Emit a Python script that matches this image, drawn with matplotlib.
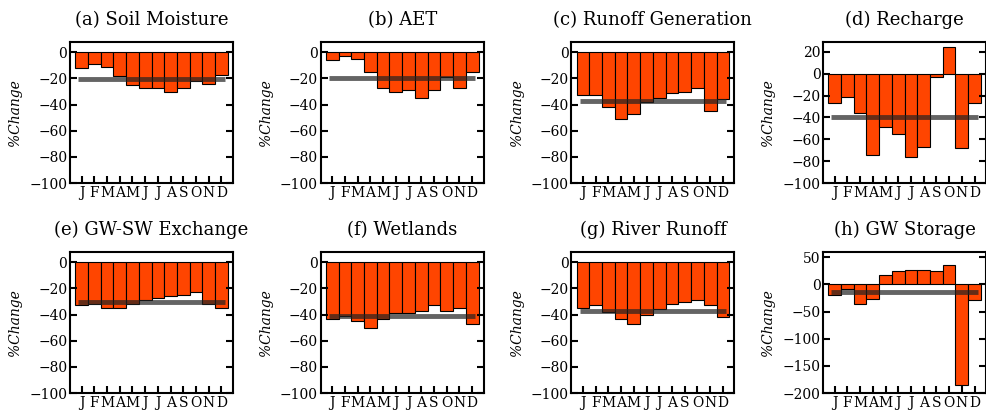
import numpy as np
import matplotlib
matplotlib.use('Agg')
import matplotlib.pyplot as plt

months = ['J', 'F', 'M', 'A', 'M', 'J', 'J', 'A', 'S', 'O', 'N', 'D']

titles = ['(a) Soil Moisture', '(b) AET', '(c) Runoff Generation', '(d) Recharge',
          '(e) GW-SW Exchange', '(f) Wetlands', '(g) River Runoff', '(h) GW Storage']

soil_moisture = [-12, -9, -11, -18, -25, -27, -27, -30, -27, -22, -24, -17]
aet = [-6, -3, -5, -15, -27, -30, -29, -35, -29, -19, -27, -15]
runoff_gen = [-33, -33, -42, -51, -47, -38, -35, -31, -30, -27, -45, -36]
recharge = [-27, -21, -36, -74, -49, -55, -76, -67, -3, 24, -68, -27]
gw_sw = [-33, -32, -35, -35, -32, -29, -27, -26, -25, -23, -32, -35]
wetlands = [-43, -41, -45, -50, -43, -39, -39, -37, -33, -37, -35, -47]
river_runoff = [-35, -33, -38, -43, -47, -40, -36, -32, -30, -29, -33, -42]
gw_storage = [-19, -9, -36, -27, 18, 25, 26, 26, 25, 36, -185, -28]

means = [-20.5, -20, -37, -40, -30, -41, -37, -13]

ylims = [(-100, 8), (-100, 8), (-100, 8), (-100, 29),
         (-100, 8), (-100, 8), (-100, 8), (-200, 60)]
yticks = [np.arange(-100, 1, 20)] * 3 + [np.arange(-100, 21, 20)] + \
         [np.arange(-100, 1, 20)] * 3 + [np.arange(-200, 51, 50)]

series = [soil_moisture, aet, runoff_gen, recharge, gw_sw, wetlands, river_runoff, gw_storage]

plt.rcParams['font.family'] = 'DejaVu Serif'
fig = plt.figure(figsize=(9.87, 4.15), dpi=100)

lefts = [0.071, 0.325, 0.579, 0.834]
bottoms = [0.559, 0.053]
w, h = 0.165, 0.34

x = np.arange(1, 13)
for i, vals in enumerate(series):
    ax = fig.add_axes([lefts[i % 4], bottoms[i // 4], w, h])
    ax.bar(x, vals, width=1.0, color='#ff4500', edgecolor='black', linewidth=0.8)
    ax.hlines(means[i], 0.75, 12.25, colors='#222222', linewidth=3.5, alpha=0.7)
    ax.set_xlim(0.1, 12.9)
    ax.set_ylim(*ylims[i])
    ax.set_yticks(yticks[i])
    ax.set_xticks(x)
    ax.set_xticklabels(months, fontsize=10)
    ax.tick_params(axis='y', labelsize=10, direction='in', right=True, length=5, width=1.5, pad=2)
    ax.tick_params(axis='x', direction='in', length=5, width=1.5, pad=2)
    for s in ax.spines.values():
        s.set_linewidth(1.5)
    ax.set_ylabel('%Change', fontsize=10, style='italic', labelpad=5)
    ax.set_title(titles[i], fontsize=13, pad=12)

fig.savefig('out.png', dpi=100)
